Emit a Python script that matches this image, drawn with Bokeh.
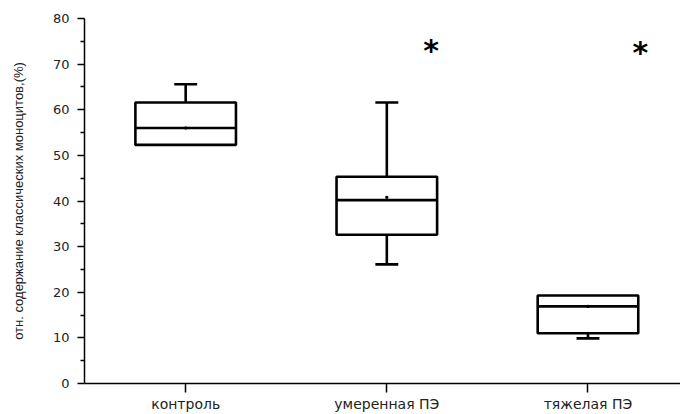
from bokeh.plotting import figure
from bokeh.models import FixedTicker, Range1d
from bokeh.core.properties import value
from bokeh.embed import file_html
from bokeh.resources import INLINE

# ---- data ----
categories = ["контроль", "умеренная ПЭ", "тяжелая ПЭ"]
positions = [1, 2, 3]
whisker_low = [52.3, 26.1, 9.9]
q1 = [52.3, 32.6, 11.0]
median = [56.0, 40.2, 16.9]
q3 = [61.6, 45.3, 19.3]
whisker_high = [65.6, 61.6, 19.3]
means = [56.0, 40.8, 16.9]
star_x = [2.22, 3.26]
star_y = [73.0, 72.6]
star_text = ["*", "*"]
y_ticks = [0, 10, 20, 30, 40, 50, 60, 70, 80]
y_minor = [5, 15, 25, 35, 45, 55, 65, 75]

box_half = 0.25
cap_half = 0.057

p = figure(width=680, height=414, output_backend="svg", toolbar_location=None,
           x_range=Range1d(0.497, 3.46), y_range=Range1d(0, 80),
           min_border_left=84, min_border_right=0, min_border_top=18,
           min_border_bottom=31)
p.outline_line_color = None
p.xgrid.grid_line_color = None
p.ygrid.grid_line_color = None
p.background_fill_color = "white"
p.border_fill_color = "white"

# boxes
p.quad(left=[x - box_half for x in positions], right=[x + box_half for x in positions],
       bottom=q1, top=q3, fill_color="white", line_color="black", line_width=2.6)
# medians
p.segment(x0=[x - box_half for x in positions], x1=[x + box_half for x in positions],
          y0=median, y1=median, line_color="black", line_width=2.6)
# whiskers
p.segment(x0=positions, x1=positions, y0=q3, y1=whisker_high, line_color="black", line_width=2.6)
p.segment(x0=positions, x1=positions, y0=q1, y1=whisker_low, line_color="black", line_width=2.6)
# caps (only where the whisker exists)
cap_hi = [(x, h) for x, h, t in zip(positions, whisker_high, q3) if h > t]
cap_lo = [(x, l) for x, l, b in zip(positions, whisker_low, q1) if l < b]
p.segment(x0=[x - cap_half for x, _ in cap_hi], x1=[x + cap_half for x, _ in cap_hi],
          y0=[h for _, h in cap_hi], y1=[h for _, h in cap_hi], line_color="black", line_width=2.6)
p.segment(x0=[x - cap_half for x, _ in cap_lo], x1=[x + cap_half for x, _ in cap_lo],
          y0=[l for _, l in cap_lo], y1=[l for _, l in cap_lo], line_color="black", line_width=2.6)
# means
p.scatter(x=positions, y=means, marker="square", size=2, color="black")

# significance stars
p.text(x=star_x, y=star_y, text=star_text, text_font=value("DejaVu Sans"),
       text_font_size="30px", text_font_style="bold", text_align="center",
       text_baseline="middle", text_color="black")

# x axis
p.xaxis.ticker = FixedTicker(ticks=positions)
p.xaxis.major_label_overrides = {x: c for x, c in zip(positions, categories)}
p.xaxis.minor_tick_line_color = None
p.xaxis.major_tick_out = 9
p.xaxis.major_tick_in = 0
p.xaxis.major_label_standoff = 3
p.xaxis.major_label_text_font = "DejaVu Sans"
p.xaxis.major_label_text_font_size = "14px"
p.xaxis.major_label_text_color = "#222222"
p.xaxis.axis_line_width = 1.5
p.xaxis.major_tick_line_width = 1.5

# y axis
p.yaxis.ticker = FixedTicker(ticks=y_ticks, minor_ticks=y_minor)
p.yaxis.major_tick_out = 7
p.yaxis.major_tick_in = 0
p.yaxis.minor_tick_out = 4
p.yaxis.minor_tick_in = 0
p.yaxis.major_label_standoff = 8
p.yaxis.major_label_text_font = "DejaVu Sans"
p.yaxis.major_label_text_font_size = "13px"
p.yaxis.major_label_text_color = "#222222"
p.yaxis.axis_line_width = 1.5
p.yaxis.major_tick_line_width = 1.5
p.yaxis.minor_tick_line_width = 1.5
p.yaxis.axis_label = "отн. содержание классических моноцитов,(%)"
p.yaxis.axis_label_text_font = "Liberation Sans"
p.yaxis.axis_label_text_font_size = "13px"
p.yaxis.axis_label_text_font_style = "normal"
p.yaxis.axis_label_text_color = "#222222"
p.yaxis.axis_label_standoff = 24

open("out.html", "w").write(file_html(p, INLINE))
